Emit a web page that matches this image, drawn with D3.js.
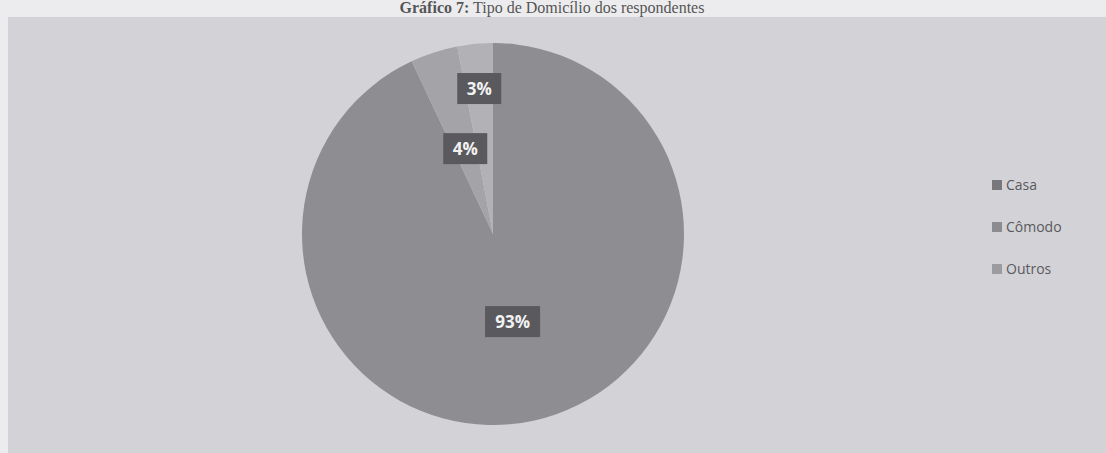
<!DOCTYPE html>
<html>
<head>
<meta charset="utf-8">
<script src="https://cdn.jsdelivr.net/npm/d3@7"></script>
<style>
  body { margin: 0; background: #ececee; }
  svg { display: block; }
</style>
</head>
<body>
<svg id="chart" width="1106" height="453"></svg>
<script>
// data
const categories = ["Casa", "Cômodo", "Outros"];
const values = [93, 4, 3];
const labels = ["93%", "4%", "3%"];
const sliceColors = ["#8d8d92", "#a4a4a8", "#b2b2b6"];
const legendColors = ["#77777c", "#8c8c90", "#9c9ca0"];

const W = 1106, H = 453;
const svg = d3.select("#chart");

// page + chart area
svg.append("rect").attr("width", W).attr("height", H).attr("fill", "#ececee");
svg.append("rect")
  .attr("x", 8).attr("y", 17)
  .attr("width", W - 8).attr("height", H - 17)
  .attr("fill", "#d3d3d7");

// title
const title = svg.append("text")
  .attr("x", 552).attr("y", 13)
  .attr("text-anchor", "middle")
  .attr("font-family", "Liberation Serif, serif")
  .attr("font-size", 16)
  .attr("fill", "#555");
title.append("tspan").attr("font-weight", "bold").text("Gráfico 7:");
title.append("tspan").text(" Tipo de Domicílio dos respondentes");

// pie
const cx = 493, cy = 234, r = 191;
const g = svg.append("g").attr("transform", `translate(${cx},${cy})`);

const pie = d3.pie().sort(null).value(d => d);
const arcs = pie(values);
const arc = d3.arc().innerRadius(0).outerRadius(r);

g.selectAll("path.slice")
  .data(arcs)
  .enter().append("path")
  .attr("class", "slice")
  .attr("d", arc)
  .attr("fill", (d, i) => sliceColors[i]);

// data labels: inside, pushed outward when they would overlap
const labelArc = d3.arc().innerRadius(r * 0.47).outerRadius(r * 0.47);
const outerArc = d3.arc().innerRadius(r * 0.765).outerRadius(r * 0.765);
const boxH = 31;
const placed = [];
arcs.forEach((d, i) => {
  let [x, y] = labelArc.centroid(d);
  const bw = labels[i].length * 11 + 22;
  const hit = placed.some(p => Math.abs(p.x - x) < (p.w + bw) / 2 && Math.abs(p.y - y) < boxH);
  if (hit) [x, y] = outerArc.centroid(d);
  placed.push({ x, y, w: bw });

  const lg = g.append("g").attr("transform", `translate(${x},${y})`);
  lg.append("rect")
    .attr("x", -bw / 2).attr("y", -boxH / 2)
    .attr("width", bw).attr("height", boxH)
    .attr("fill", "#59595e");
  lg.append("text")
    .attr("text-anchor", "middle")
    .attr("dy", "0.36em")
    .attr("font-family", "Open Sans, sans-serif")
    .attr("font-weight", "bold")
    .attr("font-size", 17)
    .attr("fill", "#f2f2f2")
    .text(labels[i]);
});

// legend
const legendY = d3.scalePoint().domain(categories).range([185, 269]);
const legend = svg.append("g").selectAll("g")
  .data(categories)
  .enter().append("g")
  .attr("transform", d => `translate(992,${legendY(d)})`);
legend.append("rect")
  .attr("x", 0).attr("y", -5)
  .attr("width", 10).attr("height", 10)
  .attr("fill", (d, i) => legendColors[i]);
legend.append("text")
  .attr("x", 14).attr("dy", "0.36em")
  .attr("font-family", "Open Sans, sans-serif")
  .attr("font-size", 14)
  .attr("fill", "#59595e")
  .text(d => d);
</script>
</body>
</html>
